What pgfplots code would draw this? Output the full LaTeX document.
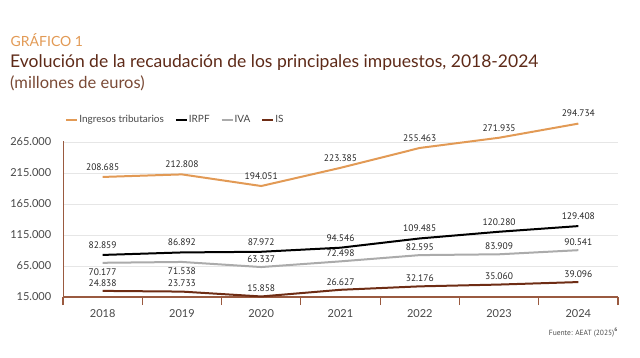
\documentclass[border=0pt]{standalone}
\usepackage{pgfplots}
\pgfplotsset{compat=1.18}
\usepackage{fontspec}
\setmainfont{Lato}
\newfontfamily\numfont{PT Sans}
\definecolor{cOr}{HTML}{E29A55}
\definecolor{cGr}{HTML}{ABABAB}
\definecolor{cBr}{HTML}{6E2C14}
\definecolor{cAx}{HTML}{9A5A40}
\definecolor{cTi}{HTML}{5E2A18}
\definecolor{cSub}{HTML}{7A4A36}
\definecolor{cGrid}{HTML}{E6E6E6}
\begin{document}
\begin{tikzpicture}
\useasboundingbox (0pt,0pt) rectangle (640pt,357pt);
\node[anchor=base west,inner sep=0,text=cOr,font=\fontsize{14}{16}\selectfont] at (10.5pt,310pt) {GRÁFICO 1};
\node[anchor=base west,inner sep=0,text=cTi,font=\fontsize{17.5}{20}\selectfont] at (10pt,289pt) {Evolución de la recaudación de los principales impuestos, 2018-2024};
\node[anchor=base west,inner sep=0,text=cSub,font=\fontsize{16.5}{19}\selectfont] at (10pt,268.5pt) {(millones de euros)};
\node[anchor=base east,inner sep=0,text=black!70,font=\fontsize{7.5}{9}\selectfont\numfont] at (618pt,22pt) {Fuente: AEAT (2025)\textsuperscript{\textbf{6}}};
\begin{axis}[
  at={(63pt,60pt)}, anchor=south west, scale only axis,
  width=555pt, height=156.2pt,
  xmin=-0.5, xmax=6.5, ymin=15000, ymax=267000,
  clip=false,
  axis x line*=bottom, axis y line*=left,
  axis line style={-, cAx},
  x axis line style={line width=1.2pt},
  y axis line style={line width=0.8pt},
  xtick={0,...,6}, xticklabels={2018,2019,2020,2021,2022,2023,2024},
  major x tick style={draw=none},
  minor xtick={-0.5,0.5,...,6.5},
  minor x tick style={cAx, line width=1.2pt},
  minor tick length=8pt, tick align=outside,
  ytick={15000,65000,...,265000},
  scaled y ticks=false,
  major y tick style={draw=none},
  ymajorgrids, grid style={cGrid, line width=0.8pt},
  /pgf/number format/1000 sep={.},
  /pgf/number format/assume math mode=true,
  /pgf/number format/fixed,
  /pgf/number format/precision=0,
  ticklabel style={font=\fontsize{11}{13}\selectfont, text=black!72},
  xticklabel style={yshift=-5pt},
  yticklabel style={xshift=-4pt},
  legend style={at={(0.004,1.133)}, anchor=west, draw=none, fill=none, inner xsep=0pt,
    font=\fontsize{10}{12}\selectfont, text=black!72,
    legend columns=-1,
    /tikz/every odd column/.append style={column sep=-1pt},
    /tikz/every even column/.append style={column sep=9pt}},
  legend image code/.code={\draw[#1, line width=2pt] (0pt,0pt) -- (11pt,0pt);},
  every node near coord/.append style={font=\fontsize{9.5}{11}\selectfont\numfont, text=black!85},
]
\addplot[cOr, line width=2pt, mark=none, line join=round] coordinates {(0,208685)(1,212808)(2,194051)(3,223385)(4,255463)(5,271935)(6,294734)};
\addlegendentry{Ingresos tributarios}
\addplot[black, line width=2pt, mark=none, line join=round] coordinates {(0,82859)(1,86892)(2,87972)(3,94546)(4,109485)(5,120280)(6,129408)};
\addlegendentry{IRPF}
\addplot[cGr, line width=2pt, mark=none, line join=round] coordinates {(0,70177)(1,71538)(2,63337)(3,72498)(4,82595)(5,83909)(6,90541)};
\addlegendentry{IVA}
\addplot[cBr, line width=2pt, mark=none, line join=round] coordinates {(0,24838)(1,23733)(2,15858)(3,26627)(4,32176)(5,35060)(6,39096)};
\addlegendentry{IS}
% labels
\addplot[draw=none, mark=none, forget plot, nodes near coords, nodes near coords align={above}, every node near coord/.append style={yshift=3pt}] coordinates {(0,208685)(1,212808)(2,194051)(3,223385)(4,255463)(5,271935)(6,294734)};
\addplot[draw=none, mark=none, forget plot, nodes near coords, nodes near coords align={above}, every node near coord/.append style={yshift=3pt}] coordinates {(0,82859)(1,86892)(2,87972)(3,94546)(4,109485)(5,120280)(6,129408)};
\addplot[draw=none, mark=none, forget plot, nodes near coords, nodes near coords align={below}, every node near coord/.append style={yshift=-2pt}] coordinates {(0,70177)(1,71538)};
\addplot[draw=none, mark=none, forget plot, nodes near coords, nodes near coords align={above}, every node near coord/.append style={yshift=1pt}] coordinates {(2,63337)(3,72498)(4,82595)(5,83909)(6,90541)};
\addplot[draw=none, mark=none, forget plot, nodes near coords, nodes near coords align={above}, every node near coord/.append style={yshift=1pt}] coordinates {(0,24838)(1,23733)(2,15858)(3,26627)(4,32176)(5,35060)(6,39096)};
\end{axis}
\end{tikzpicture}
\end{document}
